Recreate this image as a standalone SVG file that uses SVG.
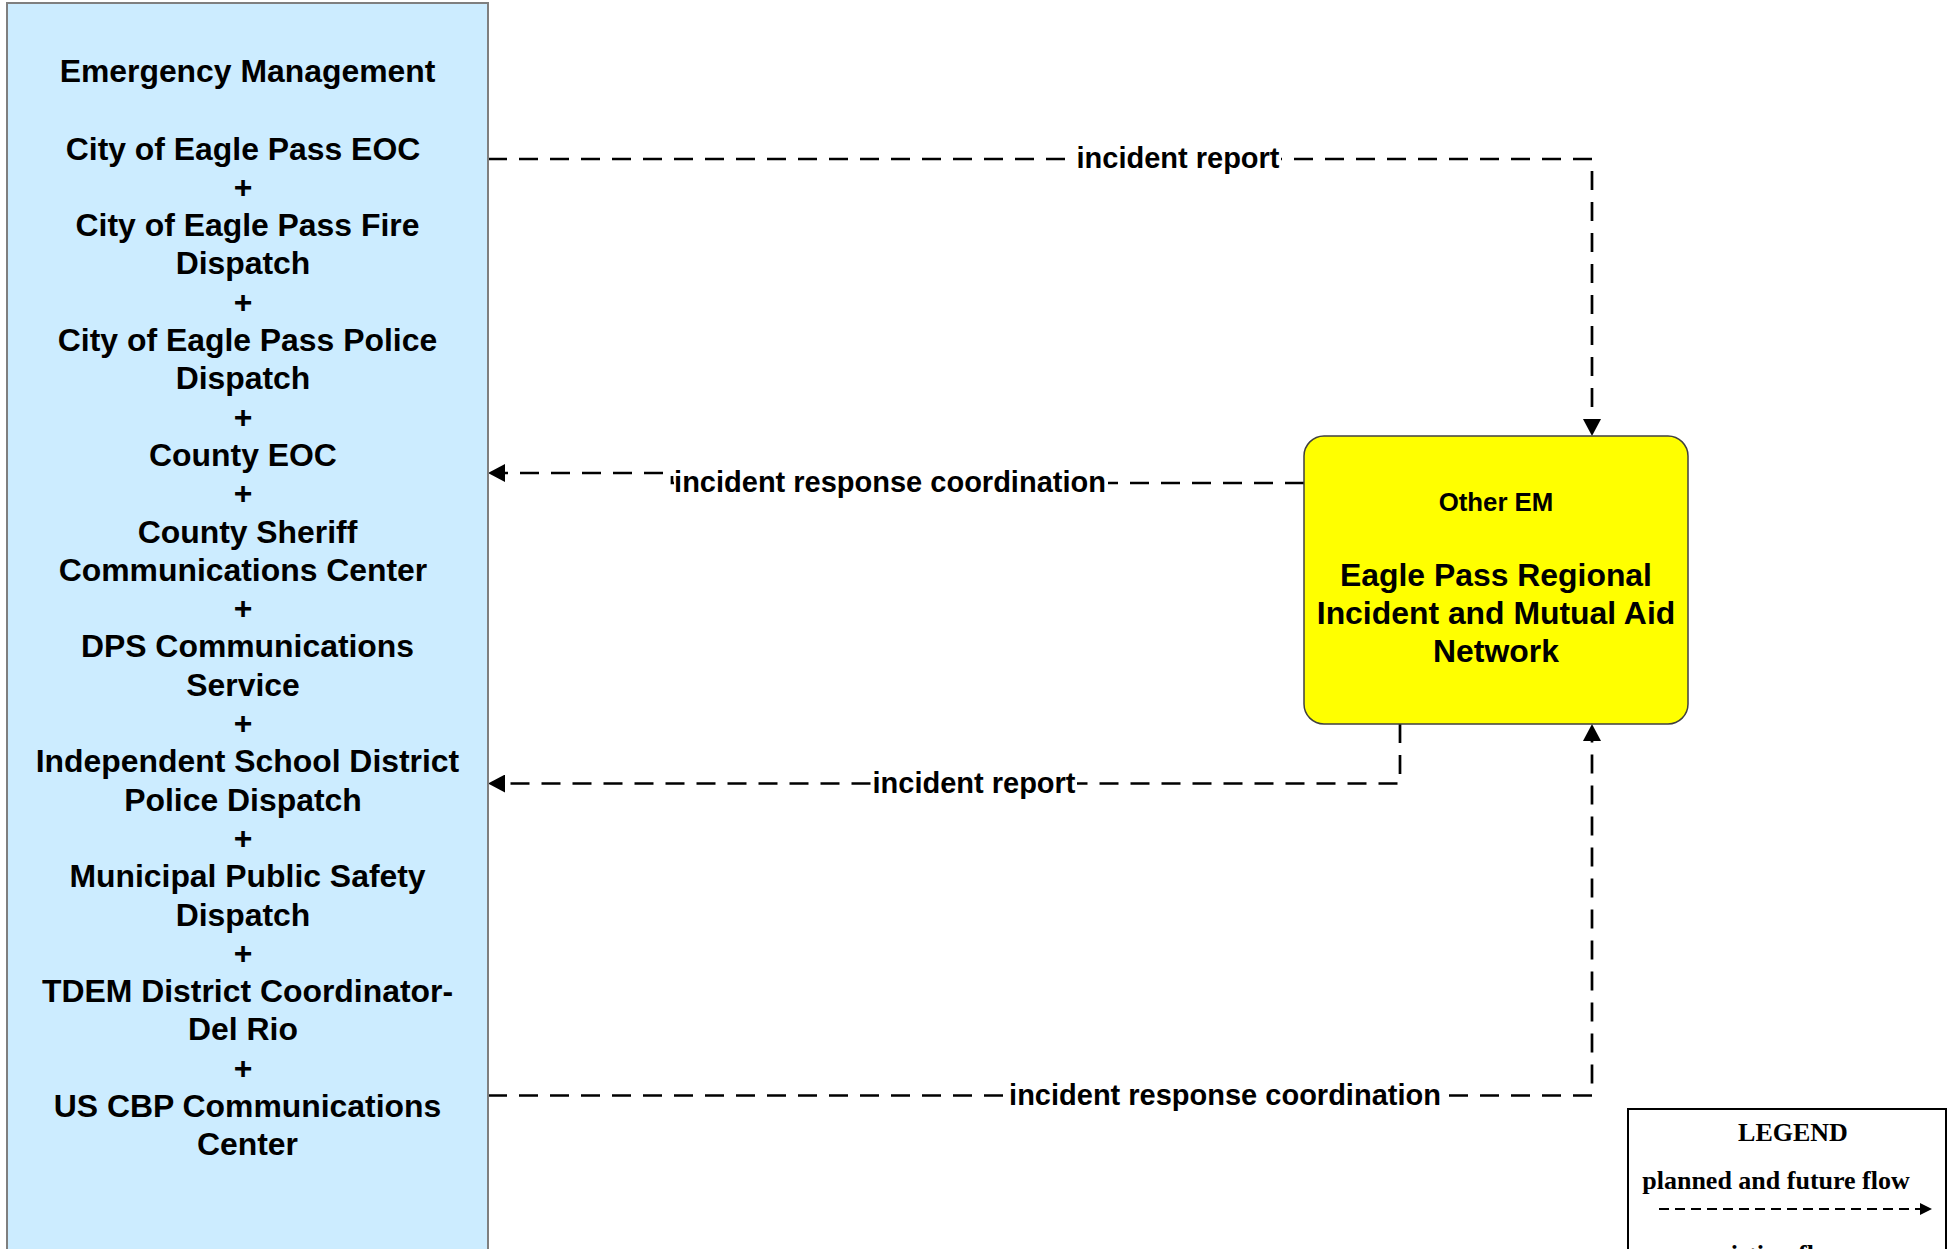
<svg xmlns="http://www.w3.org/2000/svg" width="1950" height="1249" viewBox="0 0 1950 1249">
<defs>
<style>
.box{font-family:"Liberation Sans",Arial,sans-serif;font-weight:bold;font-size:31.9px;fill:#000;text-anchor:middle}
.small{font-size:25.8px}
.lbl{font-family:"Liberation Sans",Arial,sans-serif;font-weight:bold;font-size:29px;fill:#000;text-anchor:middle}
.flow{fill:none;stroke:#000;stroke-width:2.7;stroke-dasharray:19 12}
.lbg{fill:#fff;stroke:none}
.leg{font-family:"Liberation Serif","Times New Roman",serif;font-weight:bold;font-size:26px;fill:#000;text-anchor:middle}
</style>
<marker id="arr" viewBox="0 0 17 18" refX="0" refY="9" markerWidth="17" markerHeight="18" orient="auto" markerUnits="userSpaceOnUse">
<path d="M0,0 L17,9 L0,18 z" fill="#000"/>
</marker>
</defs>
<rect x="0" y="0" width="1950" height="1249" fill="#fff"/>

<g id="connectors">
<path class="flow" d="M488,159 H1592 V419" marker-end="url(#arr)"/>
<path class="flow" d="M1304,483 H672 V473 H505" marker-end="url(#arr)"/>
<path class="flow" d="M1400,724 V783.5 H505" marker-end="url(#arr)"/>
<path class="flow" d="M488,1095.5 H1592 V741" marker-end="url(#arr)"/>
<rect class="lbg" x="1075" y="145" width="206" height="30"/>
<text class="lbl" x="1178" y="168">incident report</text>
<rect class="lbg" x="674" y="475" width="434" height="28"/>
<text class="lbl" x="890" y="492">incident response coordination</text>
<rect class="lbg" x="871" y="770" width="206" height="30"/>
<text class="lbl" x="974" y="792.5">incident report</text>
<rect class="lbg" x="1008" y="1082" width="434" height="30"/>
<text class="lbl" x="1225" y="1104.5">incident response coordination</text>
</g>

<g id="node-em">
<rect x="7" y="3" width="481" height="1260" fill="#CCECFF" stroke="#7F7F7F" stroke-width="2"/>
<text class="box" x="247.5" y="82">Emergency Management</text>
<text class="box" x="243" y="159.5">City of Eagle Pass EOC</text>
<text class="box" x="243" y="197.8">+</text>
<text class="box" x="247.5" y="236.1">City of Eagle Pass Fire</text>
<text class="box" x="243" y="274.4">Dispatch</text>
<text class="box" x="243" y="312.7">+</text>
<text class="box" x="247.5" y="351">City of Eagle Pass Police</text>
<text class="box" x="243" y="389.3">Dispatch</text>
<text class="box" x="243" y="427.6">+</text>
<text class="box" x="243" y="465.9">County EOC</text>
<text class="box" x="243" y="504.2">+</text>
<text class="box" x="247.5" y="542.5">County Sheriff</text>
<text class="box" x="243" y="580.8">Communications Center</text>
<text class="box" x="243" y="619.1">+</text>
<text class="box" x="247.5" y="657.4">DPS Communications</text>
<text class="box" x="243" y="695.7">Service</text>
<text class="box" x="243" y="734">+</text>
<text class="box" x="247.5" y="772.3">Independent School District</text>
<text class="box" x="243" y="810.6">Police Dispatch</text>
<text class="box" x="243" y="848.9">+</text>
<text class="box" x="247.5" y="887.2">Municipal Public Safety</text>
<text class="box" x="243" y="925.5">Dispatch</text>
<text class="box" x="243" y="963.8">+</text>
<text class="box" x="247.5" y="1002.1">TDEM District Coordinator-</text>
<text class="box" x="243" y="1040.4">Del Rio</text>
<text class="box" x="243" y="1078.7">+</text>
<text class="box" x="247.5" y="1117">US CBP Communications</text>
<text class="box" x="247.5" y="1155.3">Center</text>
</g>

<g id="node-network">
<rect x="1304" y="436" width="384" height="288" rx="20" ry="20" fill="#FFFF00" stroke="#404040" stroke-width="1.5"/>
<text class="box small" x="1496" y="510.5">Other EM</text>
<text class="box" x="1496" y="585.7">Eagle Pass Regional</text>
<text class="box" x="1496" y="624">Incident and Mutual Aid</text>
<text class="box" x="1496" y="662">Network</text>
</g>

<g id="legend">
<rect x="1628" y="1109" width="318" height="200" fill="#fff" stroke="#000" stroke-width="2"/>
<text class="leg" x="1793" y="1141">LEGEND</text>
<text class="leg" x="1776" y="1189">planned and future flow</text>
<path d="M1659,1209 H1920" fill="none" stroke="#000" stroke-width="2" stroke-dasharray="10 6"/>
<path d="M1920,1203 L1932,1209 L1920,1215 z" fill="#000"/>
<text class="leg" x="1776" y="1263">existing flow</text>
</g>
</svg>
